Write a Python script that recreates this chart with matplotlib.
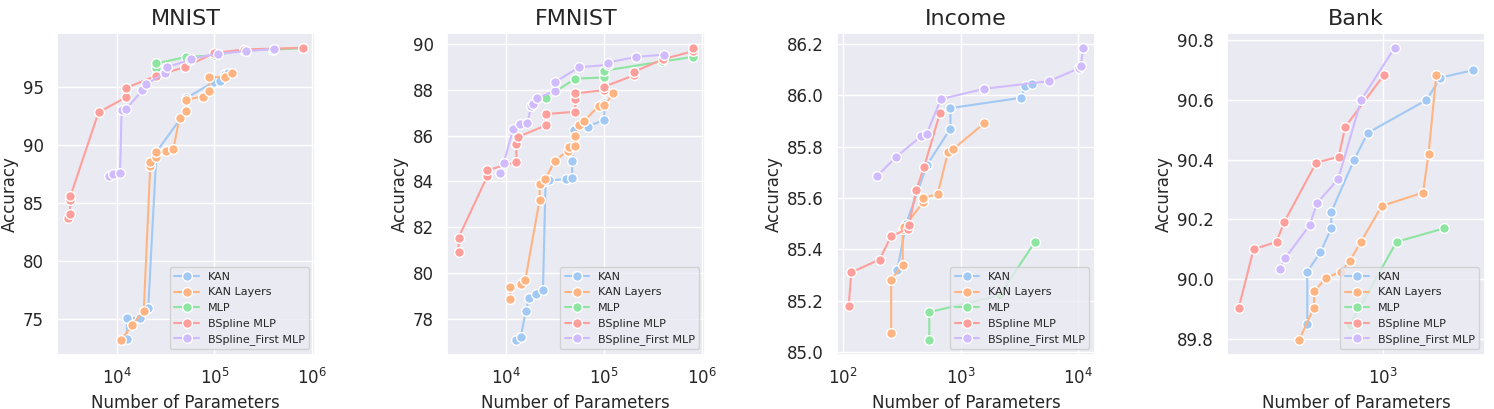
import matplotlib
matplotlib.use("Agg")
import matplotlib.pyplot as plt
import seaborn as sns

# ---- data (x = number of parameters, y = accuracy) ----
series_names = ["KAN", "KAN Layers", "MLP", "BSpline MLP", "BSpline_First MLP"]
titles = ["MNIST", "FMNIST", "Income", "Bank"]

# MNIST
mnist_kan_x = [12600, 12800, 17300, 21000, 25500, 51000, 51000, 100000, 114000, 128000, 138000]
mnist_kan_y = [73.3, 75.1, 75.15, 76.0, 89.4, 92.9, 94.0, 95.45, 95.5, 96.1, 96.2]
mnist_kanl_x = [11100, 14400, 18900, 22000, 22000, 25500, 25500, 31600, 38000, 44000, 51000, 51000,
                76000, 89000, 89000, 128000, 153000]
mnist_kanl_y = [73.2, 74.55, 75.7, 88.15, 88.55, 88.95, 89.4, 89.5, 89.65, 92.35, 92.95, 93.9,
                94.15, 94.65, 95.8, 95.85, 96.15]
mnist_mlp_x = [25500, 25500, 51000, 100000, 200000, 400000, 800000]
mnist_mlp_y = [96.6, 97.0, 97.55, 97.7, 98.15, 98.2, 98.3]
mnist_bsp_x = [3200, 3300, 3350, 3350, 6500, 12500, 12500, 25500, 50000, 100000, 200000, 810000]
mnist_bsp_y = [83.7, 84.1, 85.3, 85.6, 92.8, 94.1, 94.9, 95.95, 96.7, 97.9, 98.2, 98.35]
mnist_bspf_x = [8400, 9200, 10800, 11200, 12500, 18300, 20000, 31000, 33000, 56000, 58000,
                110000, 210000, 410000]
mnist_bspf_y = [87.3, 87.5, 87.6, 93.0, 93.1, 94.7, 95.2, 96.2, 96.7, 97.3, 97.4,
                97.85, 98.05, 98.25]

# FMNIST
fmnist_kan_x = [12600, 14200, 16000, 17200, 20500, 23900, 25400, 27600, 41200, 47400, 47400,
                50000, 68000, 100700, 100700]
fmnist_kan_y = [77.05, 77.2, 78.35, 78.9, 79.1, 79.25, 84.0, 84.05, 84.1, 84.15, 84.9,
                86.25, 86.4, 86.7, 87.45]
fmnist_kanl_x = [11100, 11100, 14200, 15800, 22100, 22100, 25200, 31600, 43000, 44000, 50500,
                 50500, 56000, 63000, 88000, 100700, 125000]
fmnist_kanl_y = [78.85, 79.4, 79.5, 79.7, 83.2, 83.9, 84.1, 84.9, 85.35, 85.5, 85.55,
                 86.0, 86.45, 86.65, 87.3, 87.35, 87.85]
fmnist_mlp_x = [25400, 51000, 101000, 101000, 394000, 810000]
fmnist_mlp_y = [87.65, 88.5, 88.55, 88.85, 89.25, 89.45]
fmnist_bsp_x = [3300, 3300, 6500, 6500, 12800, 12800, 13300, 25400, 25400, 51000, 51000, 51000,
                101000, 101000, 203000, 203000, 400000, 810000, 810000]
fmnist_bsp_y = [80.9, 81.55, 84.25, 84.5, 84.85, 85.65, 85.95, 86.45, 86.95, 87.05, 87.6, 87.85,
                88.0, 88.15, 88.65, 88.8, 89.35, 89.7, 89.85]
fmnist_bspf_x = [8700, 9500, 11900, 14100, 16500, 18200, 19000, 20800, 31400, 31600, 56000,
                 109000, 109000, 211000, 410000]
fmnist_bspf_y = [84.35, 84.8, 86.3, 86.5, 86.55, 87.3, 87.4, 87.65, 87.95, 88.35, 89.0,
                 89.1, 89.2, 89.45, 89.55]

# Income
income_kan_x = [290, 345, 520, 820, 820, 3260, 3550, 4030]
income_kan_y = [85.32, 85.5, 85.73, 85.87, 85.95, 85.99, 86.035, 86.045]
income_kanl_x = [257, 257, 322, 322, 330, 483, 483, 638, 783, 864, 1580]
income_kanl_y = [85.075, 85.28, 85.34, 85.48, 85.485, 85.585, 85.6, 85.615, 85.78, 85.79, 85.89]
income_mlp_x = [542, 542, 2140, 4300]
income_mlp_y = [85.045, 85.155, 85.22, 85.43]
income_bsp_x = [112, 118, 205, 256, 355, 365, 419, 489, 667]
income_bsp_y = [85.18, 85.31, 85.36, 85.45, 85.48, 85.495, 85.63, 85.72, 85.93]
income_bspf_x = [195, 284, 461, 515, 681, 1580, 5650, 10100, 10500, 11000]
income_bspf_y = [85.685, 85.76, 85.84, 85.85, 85.985, 86.025, 86.055, 86.105, 86.115, 86.185]

# Bank
bank_kan_x = [414, 414, 482, 547, 547, 713, 835, 1650, 1940, 2840]
bank_kan_y = [89.85, 90.025, 90.09, 90.17, 90.225, 90.4, 90.49, 90.6, 90.675, 90.7]
bank_kanl_x = [376, 447, 450, 516, 612, 676, 771, 981, 1585, 1690, 1850]
bank_kanl_y = [89.795, 89.905, 89.96, 90.005, 90.025, 90.06, 90.125, 90.245, 90.29, 90.42, 90.685]
bank_mlp_x = [676, 1166, 2020]
bank_mlp_y = [89.845, 90.125, 90.17]
bank_bsp_x = [187, 222, 290, 316, 459, 596, 643, 1010]
bank_bsp_y = [89.905, 90.1, 90.125, 90.19, 90.39, 90.41, 90.51, 90.685]
bank_bspf_x = [301, 320, 425, 464, 592, 773, 1140]
bank_bspf_y = [90.035, 90.07, 90.18, 90.255, 90.335, 90.6, 90.775]

panels = [
    [(mnist_kan_x, mnist_kan_y), (mnist_kanl_x, mnist_kanl_y), (mnist_mlp_x, mnist_mlp_y),
     (mnist_bsp_x, mnist_bsp_y), (mnist_bspf_x, mnist_bspf_y)],
    [(fmnist_kan_x, fmnist_kan_y), (fmnist_kanl_x, fmnist_kanl_y), (fmnist_mlp_x, fmnist_mlp_y),
     (fmnist_bsp_x, fmnist_bsp_y), (fmnist_bspf_x, fmnist_bspf_y)],
    [(income_kan_x, income_kan_y), (income_kanl_x, income_kanl_y), (income_mlp_x, income_mlp_y),
     (income_bsp_x, income_bsp_y), (income_bspf_x, income_bspf_y)],
    [(bank_kan_x, bank_kan_y), (bank_kanl_x, bank_kanl_y), (bank_mlp_x, bank_mlp_y),
     (bank_bsp_x, bank_bsp_y), (bank_bspf_x, bank_bspf_y)],
]

sns.set_theme(style="darkgrid", palette="pastel")
plt.rcParams['font.family'] = ['DejaVu Sans']
colors = sns.color_palette("pastel")[:5]

fig, axes = plt.subplots(1, 4, figsize=(14.94, 4.09), dpi=100)
fig.subplots_adjust(left=0.038, right=0.994, bottom=0.132, top=0.919, wspace=0.512)

for ax, title, series in zip(axes, titles, panels):
    for (xs, ys), name, c in zip(series, series_names, colors):
        ax.plot(xs, ys, color=c, lw=1.5, marker='o', markersize=7,
                markeredgecolor='white', markeredgewidth=1, label=name)
    ax.set_xscale('log')
    ax.set_title(title, fontsize=16)
    ax.set_xlabel("Number of Parameters", fontsize=12)
    ax.set_ylabel("Accuracy", fontsize=12, labelpad=3)
    ax.tick_params(labelsize=12)
    ax.legend(loc='lower right', fontsize=8, handlelength=2.2)

fig.savefig("out.png", dpi=100)
